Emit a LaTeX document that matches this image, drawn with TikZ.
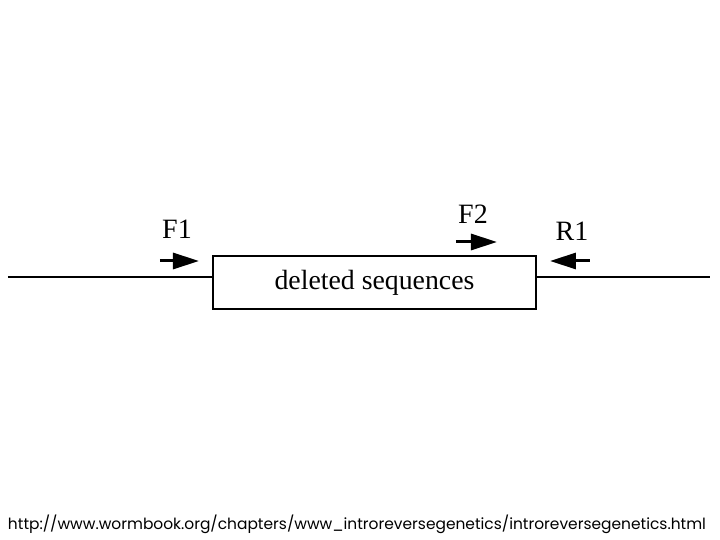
\documentclass[tikz,border=0pt]{standalone}
\usepackage{fontspec}
\setmainfont{Liberation Serif}
\newfontfamily\urlfont{Poppins}
\usetikzlibrary{arrows.meta,positioning}

\tikzset{
	primer/.style={line width=1.5pt, -{Triangle[length=13pt,width=8pt]}},
	primerlabel/.style={font=\fontsize{14}{16}\selectfont, inner sep=0pt},
	dna/.style={line width=1pt}
}

\begin{document}
\begin{tikzpicture}[x=0.5pt,y=-0.5pt]
	\useasboundingbox (0,0) rectangle (720,540);
	% the deleted region
	\node[draw, line width=1pt, minimum width=161.5pt, minimum height=26.5pt, inner sep=0pt,
		font=\fontsize{13.9}{16}\selectfont] (del) at (374.5,282.5) {deleted sequences};
	\coordinate (lend) at (8,277);
	\coordinate (rend) at (710,277);
	\draw[dna] (lend) -- (del.west |- lend);
	\draw[dna] (del.east |- rend) -- (rend);
	% primers
	\coordinate (f1s) at (160,261);
	\coordinate (f1e) at (199,261);
	\coordinate (f2s) at (456,242);
	\coordinate (f2e) at (497,242);
	\coordinate (r1s) at (590,261);
	\coordinate (r1e) at (550,261);
	\draw[primer] (f1s) -- (f1e);
	\draw[primer] (f2s) -- (f2e);
	\draw[primer] (r1s) -- (r1e);
	\node[primerlabel] (f1) at (177,229) {F1};
	\node[primerlabel] (f2) at (473,214) {F2};
	\node[primerlabel] (r1) at (572,231) {R1};
	% source
	\node[inner sep=0pt] (src) at (357,524) {\resizebox{349pt}{!}{\urlfont http://www.wormbook.org/chapters/www\_introreversegenetics/introreversegenetics.html}};
\end{tikzpicture}
\end{document}
